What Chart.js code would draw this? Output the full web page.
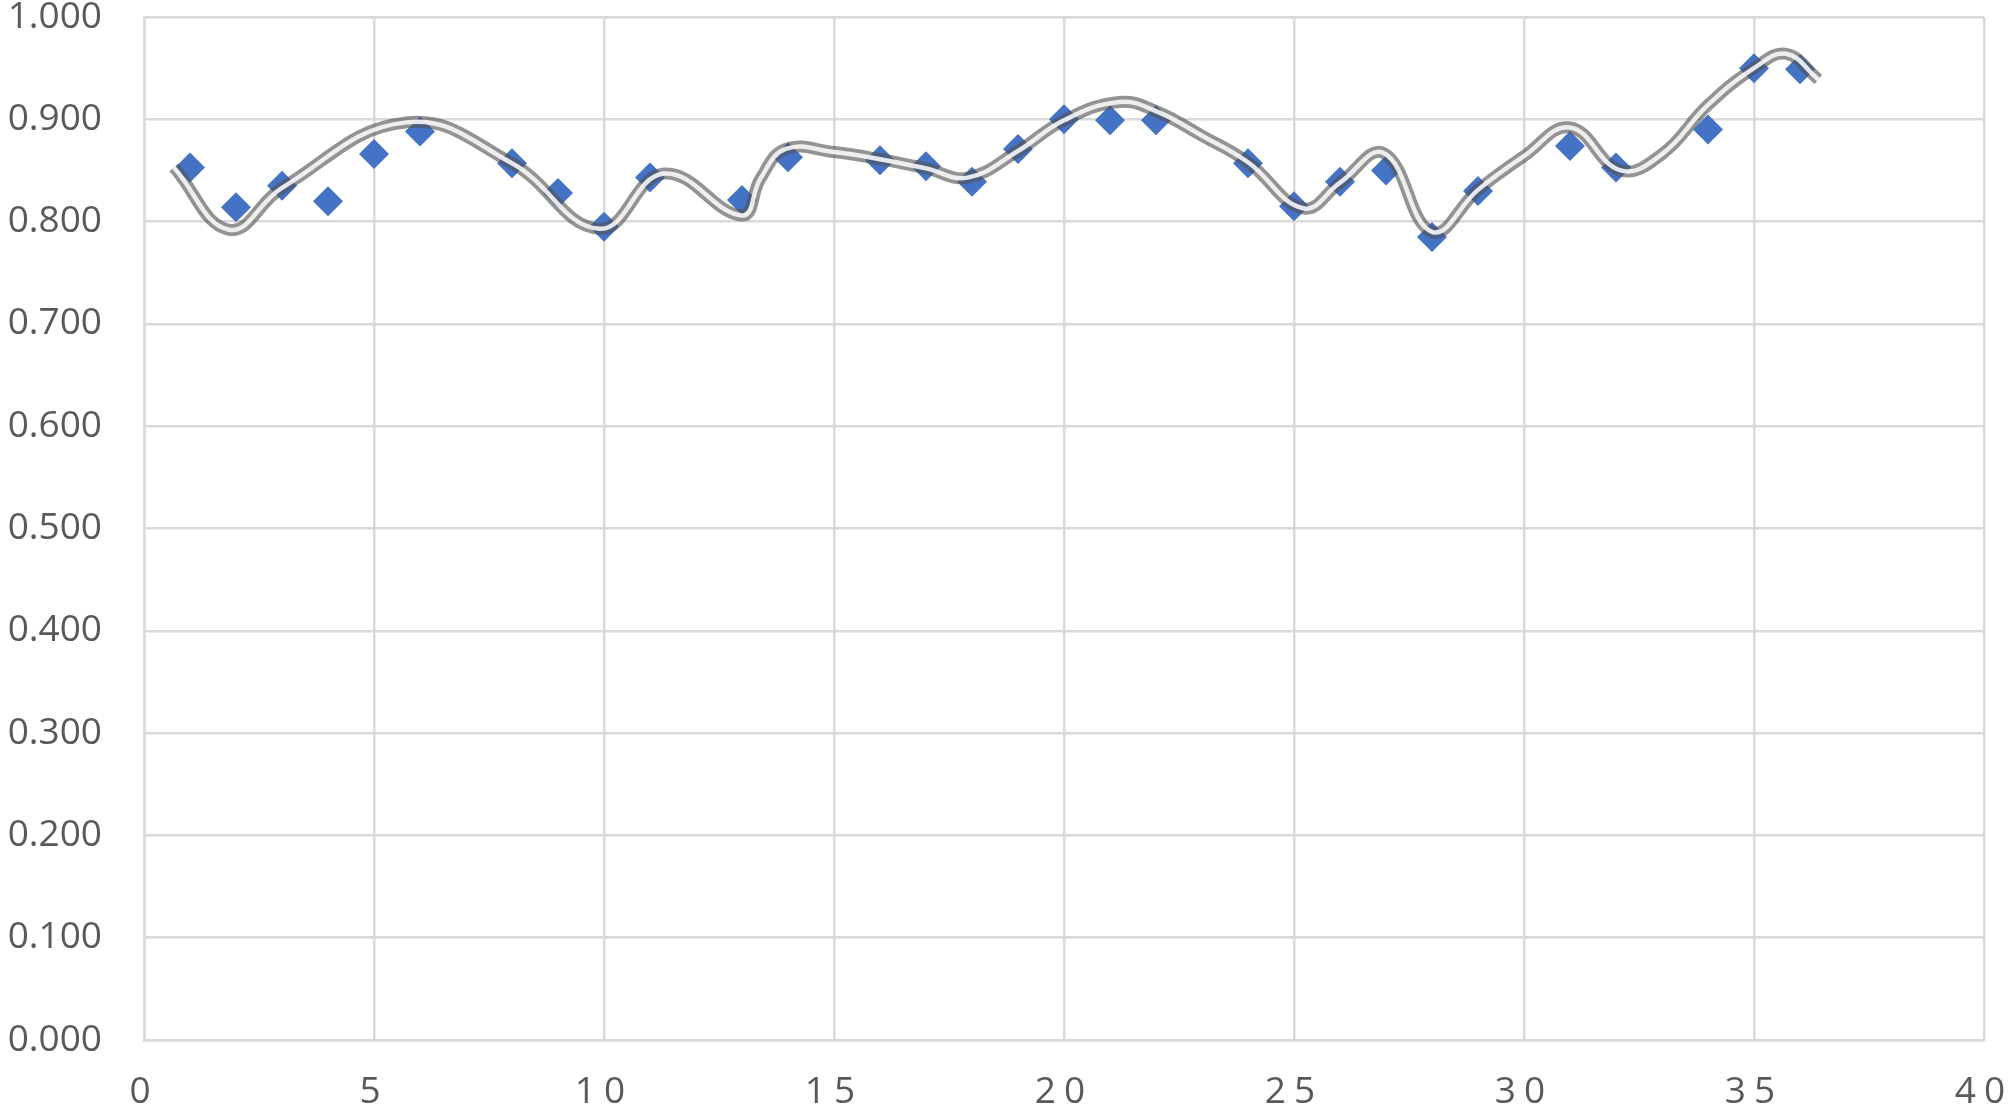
<!DOCTYPE html>
<html>
<head>
<meta charset="utf-8">
<script src="https://cdn.jsdelivr.net/npm/chart.js@4.4.1/dist/chart.umd.min.js"></script>
<style>
  html, body { margin: 0; padding: 0; background: #ffffff; }
  #wrap { width: 2008px; height: 1112px; }
</style>
</head>
<body>
<div id="wrap"><canvas id="c" width="2008" height="1112"></canvas></div>
<script>
// Scatter points (markers)
const xValues = [1, 2, 3, 4, 5, 6, 8, 9, 10, 11, 13, 14, 16, 17, 18, 19, 20, 21, 22, 24, 25, 26, 27, 28, 29, 31, 32, 34, 35, 36];
const yValues = [0.853, 0.814, 0.835, 0.820, 0.866, 0.888, 0.857, 0.828, 0.795, 0.843, 0.821, 0.863, 0.860, 0.854, 0.839, 0.871, 0.900, 0.899, 0.899, 0.857, 0.815, 0.839, 0.850, 0.785, 0.830, 0.874, 0.853, 0.890, 0.950, 0.949];

// Smoothed line
const curveX = [0.65, 1.85, 3.0, 5.7, 8.0, 9.9, 11.3, 13.0, 13.4, 13.95, 15.0, 16.0, 17.0, 17.9, 19.0, 20.0, 21.2, 22.0, 23.0, 24.0, 25.2, 26.0, 26.95, 28.0, 29.0, 30.0, 31.0, 32.1, 33.0, 34.0, 35.0, 35.7, 36.4];
const curveY = [0.853, 0.792, 0.833, 0.897, 0.857, 0.793, 0.847, 0.806, 0.842, 0.871, 0.868, 0.861, 0.852, 0.843, 0.869, 0.899, 0.917, 0.908, 0.884, 0.858, 0.813, 0.838, 0.867, 0.790, 0.831, 0.864, 0.892, 0.850, 0.866, 0.914, 0.950, 0.964, 0.939];

// Axis settings
const xMin = 0, xMax = 40, xStep = 5;
const yMin = 0, yMax = 1, yStep = 0.1;

const points = xValues.map((x, i) => ({ x: x, y: yValues[i] }));
const curve = curveX.map((x, i) => ({ x: x, y: curveY[i] }));

const gridColor = '#d9d9d9';
const textColor = '#595959';
const tickFont = { family: '"Open Sans", "Liberation Sans", sans-serif', size: 37, lineHeight: 0.9 };

const letterSpacingPlugin = {
  id: 'xLetterSpacing',
  beforeDraw(chart) {
    const sc = chart.scales.x;
    if (sc && !sc._lsWrapped) {
      const orig = sc.drawLabels;
      sc.drawLabels = function (area) {
        const ctx = this.ctx;
        ctx.save();
        try { ctx.letterSpacing = '8px'; } catch (e) {}
        orig.call(this, area);
        ctx.restore();
      };
      sc._lsWrapped = true;
    }
  }
};

new Chart(document.getElementById('c'), {
  type: 'scatter',
  data: {
    datasets: [
      {
        label: 'trend inner',
        data: curve,
        showLine: true,
        borderColor: 'rgba(255,255,255,0.85)',
        borderWidth: 4.5,
        pointRadius: 0,
        fill: false,
        tension: 0.42,
        order: 0
      },
      {
        label: 'trend outer',
        data: curve,
        showLine: true,
        borderColor: 'rgba(80,80,80,0.62)',
        borderWidth: 12,
        pointRadius: 0,
        fill: false,
        tension: 0.42,
        order: 1
      },
      {
        label: 'values',
        data: points,
        pointStyle: 'rectRot',
        pointRadius: 15,
        pointBackgroundColor: '#4472C4',
        pointBorderColor: '#4472C4',
        pointBorderWidth: 0,
        showLine: false,
        order: 2
      }
    ]
  },
  options: {
    responsive: false,
    animation: false,
    devicePixelRatio: 1,
    layout: { padding: { top: 17, right: 24, left: 0, bottom: 0 } },
    plugins: {
      legend: { display: false },
      title: { display: false },
      tooltip: { enabled: false }
    },
    scales: {
      x: {
        type: 'linear',
        min: xMin,
        max: xMax,
        afterFit: (s) => { s.height = 72; s.paddingLeft = 0; s.paddingRight = 0; s.paddingTop = 0; s.paddingBottom = 0; },
        grid: { color: gridColor, lineWidth: 2.5, drawTicks: false },
        border: { display: true, color: gridColor, width: 2.5 },
        ticks: {
          stepSize: xStep,
          color: textColor,
          font: tickFont,
          padding: 36,
          maxRotation: 0,
          autoSkip: false
        }
      },
      y: {
        type: 'linear',
        min: yMin,
        max: yMax,
        afterFit: (s) => { s.width = 144; s.paddingTop = 0; s.paddingBottom = 0; s.paddingLeft = 0; s.paddingRight = 0; },
        grid: { color: gridColor, lineWidth: 2.5, drawTicks: false },
        border: { display: true, color: gridColor, width: 2.5 },
        ticks: {
          stepSize: yStep,
          color: textColor,
          font: tickFont,
          padding: 42,
          callback: (v) => Number(v).toFixed(3)
        }
      }
    }
  },
  plugins: [letterSpacingPlugin]
});
</script>
</body>
</html>
